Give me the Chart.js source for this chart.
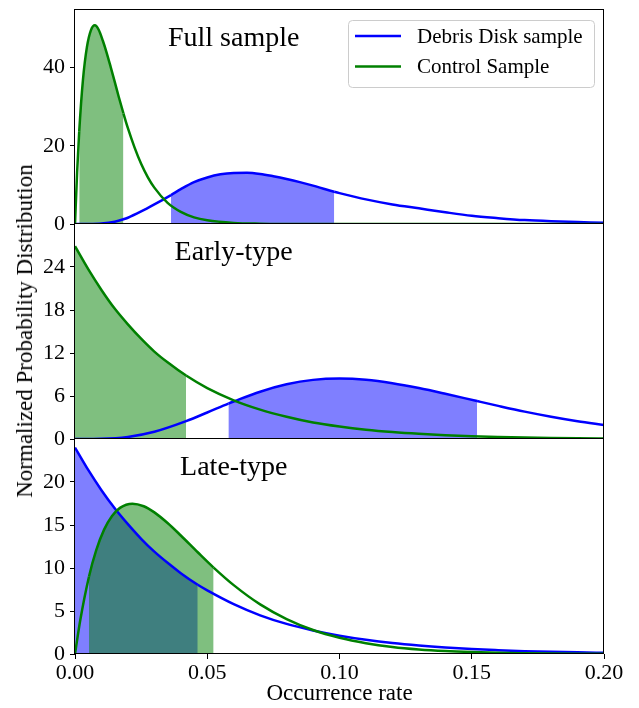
<!DOCTYPE html>
<html>
<head>
<meta charset="utf-8">
<script src="https://cdn.jsdelivr.net/npm/chart.js@4.4.0/dist/chart.umd.min.js"></script>
<style>
  html, body { margin: 0; padding: 0; background: #fff; }
  #wrap { position: relative; width: 639px; height: 708px; overflow: hidden; }
  #wrap canvas { position: absolute; left: 0; }
  #ylabel {
    position: absolute; left: 25px; top: 331px;
    transform: translate(-50%, -50%) rotate(-90deg);
    font: 23px "Liberation Serif", "Times New Roman", serif;
    white-space: nowrap; color: #000;
  }
</style>
</head>
<body>
<div id="wrap">
  <canvas id="c1" width="639" height="244" style="top:0px"></canvas>
  <canvas id="c2" width="639" height="255" style="top:204px"></canvas>
  <canvas id="c3" width="639" height="289" style="top:419px"></canvas>
  <div id="ylabel">Normalized Probability Distribution</div>
</div>
<script>
// ── Data ─────────────────────────────────────────────────────────
const SERIES_NAMES = ['Debris Disk sample', 'Control Sample'];
const PANEL_TITLES = ['Full sample', 'Early-type', 'Late-type'];
const X_TITLE = 'Occurrence rate';
const X_TICKS = [0, 0.05, 0.10, 0.15, 0.20];
const Y_TICKS_FULL = [0, 20, 40];
const Y_TICKS_EARLY = [0, 6, 12, 18, 24];
const Y_TICKS_LATE = [0, 5, 10, 15, 20];
const Y_MAX = [54.7, 30, 25];

// Full sample
const fullDebrisX = [0, 0.005, 0.01, 0.015, 0.0183, 0.02, 0.025, 0.03, 0.0363, 0.04, 0.045, 0.05, 0.055, 0.06, 0.065, 0.07, 0.075, 0.08, 0.085, 0.09, 0.095, 0.098, 0.1, 0.11, 0.12, 0.13, 0.14, 0.15, 0.16, 0.17, 0.18, 0.19, 0.2];
const fullDebrisY = [0, 0.02, 0.15, 0.6, 1.2, 1.6, 3.2, 5.0, 7.4, 8.9, 10.7, 11.9, 12.7, 13.05, 13.1, 12.8, 12.2, 11.5, 10.7, 9.8, 8.8, 8.25, 7.9, 6.3, 5.0, 4.0, 3.0, 2.1, 1.5, 1.0, 0.7, 0.5, 0.3];
const fullDebrisCI = [0.0363, 0.098];

const fullControlX = [0, 0.0008, 0.0016, 0.003, 0.0045, 0.006, 0.0075, 0.009, 0.0105, 0.012, 0.0135, 0.015, 0.0165, 0.0183, 0.02, 0.0225, 0.025, 0.0275, 0.03, 0.035, 0.04, 0.045, 0.05, 0.06, 0.07, 0.08, 0.1, 0.15, 0.2];
const fullControlY = [0, 13.2, 23.7, 36.8, 45.2, 49.5, 50.8, 49.6, 46.9, 43.7, 40.1, 36.4, 32.6, 28.3, 24.5, 19.6, 15.4, 12.0, 9.3, 5.4, 3.1, 1.7, 0.95, 0.28, 0.08, 0.02, 0, 0, 0];
const fullControlCI = [0.0016, 0.0183];

// Early-type
const earlyDebrisX = [0, 0.01, 0.02, 0.03, 0.042, 0.05, 0.058, 0.06, 0.07, 0.08, 0.09, 0.1, 0.11, 0.12, 0.13, 0.14, 0.152, 0.16, 0.17, 0.18, 0.19, 0.2];
const earlyDebrisY = [0, 0.03, 0.29, 1.01, 2.49, 3.70, 4.94, 5.23, 6.60, 7.63, 8.25, 8.44, 8.27, 7.79, 7.11, 6.31, 5.29, 4.62, 3.82, 3.11, 2.48, 1.94];
const earlyDebrisCI = [0.058, 0.152];

const earlyControlX = [0, 0.005, 0.01, 0.015, 0.02, 0.025, 0.03, 0.035, 0.042, 0.05, 0.06, 0.07, 0.08, 0.09, 0.1, 0.11, 0.12, 0.13, 0.14, 0.15, 0.16, 0.17, 0.18, 0.19, 0.2];
const earlyControlY = [26.9, 23.7, 20.8, 18.2, 16.0, 14.0, 12.2, 10.7, 8.85, 7.1, 5.4, 4.1, 3.1, 2.3, 1.74, 1.3, 0.97, 0.72, 0.53, 0.39, 0.29, 0.21, 0.15, 0.11, 0.08];
const earlyControlCI = [0, 0.042];

// Late-type
const lateDebrisX = [0, 0.005, 0.01, 0.015, 0.02, 0.025, 0.03, 0.035, 0.04, 0.0464, 0.05, 0.06, 0.07, 0.08, 0.09, 0.1, 0.11, 0.12, 0.13, 0.14, 0.15, 0.16, 0.17, 0.18, 0.19, 0.2];
const lateDebrisY = [24.0, 21.4, 19.05, 16.95, 15.1, 13.4, 11.9, 10.6, 9.4, 8.05, 7.4, 5.8, 4.5, 3.5, 2.74, 2.13, 1.65, 1.27, 0.98, 0.75, 0.57, 0.44, 0.33, 0.25, 0.19, 0.14];
const lateDebrisCI = [0, 0.0464];

const lateControlX = [0, 0.002, 0.0053, 0.008, 0.011, 0.014, 0.017, 0.0217, 0.026, 0.03, 0.035, 0.04, 0.0464, 0.0524, 0.06, 0.07, 0.08, 0.09, 0.1, 0.11, 0.12, 0.13, 0.14, 0.15, 0.16, 0.17, 0.18, 0.19, 0.2];
const lateControlY = [0, 3.95, 9.02, 12.05, 14.46, 16.05, 16.99, 17.48, 17.18, 16.47, 15.23, 13.78, 11.83, 10.05, 8.01, 5.77, 4.06, 2.79, 1.89, 1.26, 0.82, 0.53, 0.34, 0.22, 0.14, 0.09, 0.05, 0.03, 0.02];
const lateControlCI = [0.0053, 0.0524];

// ── Styling ──────────────────────────────────────────────────────
const SERIF = '"Liberation Serif", "Times New Roman", serif';
const BLUE = '#0000ff';
const GREEN = '#008000';
const BLUE_FILL = 'rgba(0,0,255,0.5)';
const GREEN_FILL = 'rgba(0,128,0,0.5)';
const TITLE_X = 0.06;   // panel titles are centred on this x value

/** One posterior curve; only the credible interval ci gets shaded. */
function curve(label, xs, ys, ci, lineColor, fillColor, order) {
  const inside = c => c.p0.parsed.x >= ci[0] - 1e-9 && c.p1.parsed.x <= ci[1] + 1e-9;
  return {
    label,
    order,
    data: xs.map((x, i) => ({ x, y: ys[i] })),
    borderColor: lineColor,
    borderWidth: 2.5,
    pointRadius: 0,
    cubicInterpolationMode: 'monotone',
    fill: 'origin',
    backgroundColor: fillColor,
    segment: { backgroundColor: c => inside(c) ? fillColor : 'rgba(0,0,0,0)' },
  };
}

// frame, in-panel title and (first panel only) the legend box
const panelDecor = {
  id: 'panelDecor',
  afterDraw(chart, args, opts) {
    const { ctx, chartArea: a, scales: { x } } = chart;
    ctx.save();
    ctx.strokeStyle = '#000';
    ctx.lineWidth = 1;
    ctx.strokeRect(a.left - 0.5, a.top - 0.5, a.right - a.left, a.bottom - a.top);

    ctx.fillStyle = '#000';
    ctx.font = '28px ' + SERIF;
    ctx.textAlign = 'center';
    ctx.textBaseline = 'alphabetic';
    ctx.fillText(opts.title, x.getPixelForValue(TITLE_X), a.top + 36);

    if (opts.legend) {
      const bx = a.right - 256, by = a.top + 10, bw = 246, bh = 67;
      ctx.beginPath();
      ctx.roundRect(bx + 0.5, by + 0.5, bw, bh, 4);
      ctx.fillStyle = 'rgba(255,255,255,0.8)';
      ctx.fill();
      ctx.strokeStyle = '#cccccc';
      ctx.stroke();
      ctx.font = '21px ' + SERIF;
      ctx.textAlign = 'left';
      ctx.textBaseline = 'middle';
      SERIES_NAMES.forEach((name, i) => {
        const ds = chart.data.datasets.find(d => d.label === name);
        const yy = by + 16 + i * 30.5;
        ctx.strokeStyle = ds.borderColor;
        ctx.lineWidth = 2.5;
        ctx.beginPath();
        ctx.moveTo(bx + 7, yy);
        ctx.lineTo(bx + 53, yy);
        ctx.stroke();
        ctx.fillStyle = '#000';
        ctx.fillText(name, bx + 69, yy + 1);
      });
    }
    ctx.restore();
  },
};

function makePanel(id, p) {
  const tickFont = { family: SERIF, size: 22 };
  return new Chart(document.getElementById(id), {
    type: 'line',
    data: {
      // debris drawn first (higher order), control shading laid over it
      datasets: [
        curve(SERIES_NAMES[0], p.debris[0], p.debris[1], p.debris[2], BLUE, BLUE_FILL, 2),
        curve(SERIES_NAMES[1], p.control[0], p.control[1], p.control[2], GREEN, GREEN_FILL, 1),
      ],
    },
    options: {
      responsive: false,
      devicePixelRatio: 1,
      animation: false,
      events: [],
      layout: { padding: { left: 0, right: 35, top: p.padTop, bottom: p.padBottom } },
      scales: {
        x: {
          type: 'linear', min: 0, max: 0.2,
          display: p.showX,
          afterBuildTicks: s => { s.ticks = X_TICKS.map(v => ({ value: v })); },
          afterFit: s => { if (p.showX) { s.height = 54; s.paddingLeft = 0; s.paddingRight = 0; } },
          ticks: { color: '#000', font: tickFont, padding: 1, maxRotation: 0, callback: v => v.toFixed(2) },
          grid: { drawOnChartArea: false, drawTicks: true, tickLength: 5, color: '#000' },
          border: { display: false },
          title: { display: true, text: X_TITLE, color: '#000', font: { family: SERIF, size: 23 }, padding: { top: 0, bottom: 0 } },
        },
        y: {
          type: 'linear', min: 0, max: p.yMax,
          afterBuildTicks: s => { s.ticks = p.yTicks.map(v => ({ value: v })); },
          afterFit: s => { s.width = 75; s.paddingTop = 0; s.paddingBottom = 0; },
          ticks: { color: '#000', font: tickFont, padding: 5 },
          grid: { drawOnChartArea: false, drawTicks: true, tickLength: 5, color: '#000' },
          border: { display: false },
        },
      },
      plugins: {
        legend: { display: false },
        tooltip: { enabled: false },
        filler: { drawTime: 'beforeDatasetsDraw' },
        panelDecor: { title: p.title, legend: p.legend },
      },
    },
    plugins: [panelDecor],
  });
}

makePanel('c1', {
  title: PANEL_TITLES[0], yMax: Y_MAX[0], yTicks: Y_TICKS_FULL, legend: true, showX: false,
  padTop: 10, padBottom: 20,
  debris: [fullDebrisX, fullDebrisY, fullDebrisCI],
  control: [fullControlX, fullControlY, fullControlCI],
});
makePanel('c2', {
  title: PANEL_TITLES[1], yMax: Y_MAX[1], yTicks: Y_TICKS_EARLY, legend: false, showX: false,
  padTop: 20, padBottom: 20,
  debris: [earlyDebrisX, earlyDebrisY, earlyDebrisCI],
  control: [earlyControlX, earlyControlY, earlyControlCI],
});
makePanel('c3', {
  title: PANEL_TITLES[2], yMax: Y_MAX[2], yTicks: Y_TICKS_LATE, legend: false, showX: true,
  padTop: 20, padBottom: 0,
  debris: [lateDebrisX, lateDebrisY, lateDebrisCI],
  control: [lateControlX, lateControlY, lateControlCI],
});
</script>
</body>
</html>
